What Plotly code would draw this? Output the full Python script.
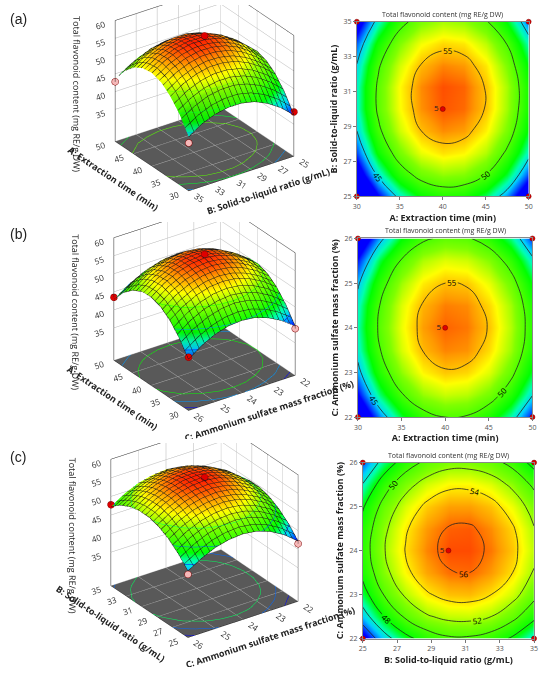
import plotly.graph_objects as go

# ---------------- data ----------------
# Panel (a): A extraction time (min) x B solid-to-liquid ratio (g/mL)
a_time = [30, 32.5, 35, 37.5, 40, 42.5, 45, 47.5, 50]
a_ratio = [25, 26.25, 27.5, 28.75, 30, 31.25, 32.5, 33.75, 35]
a_tfc = [  # rows: ratio, columns: time
    [37.6, 42.2, 45.6, 47.7, 48.6, 48.3, 46.7, 44.0, 40.0],
    [40.9, 45.4, 48.8, 50.9, 51.8, 51.5, 50.0, 47.2, 43.2],
    [43.3, 47.9, 51.2, 53.4, 54.3, 53.9, 52.4, 49.6, 45.7],
    [45.0, 49.5, 52.9, 55.0, 55.9, 55.6, 54.0, 51.3, 47.3],
    [45.8, 50.4, 53.7, 55.8, 56.7, 56.4, 54.9, 52.1, 48.1],
    [45.8, 50.4, 53.8, 55.9, 56.8, 56.5, 54.9, 52.2, 48.2],
    [45.1, 49.7, 53.0, 55.1, 56.0, 55.7, 54.2, 51.4, 47.4],
    [43.6, 48.1, 51.5, 53.6, 54.5, 54.2, 52.6, 49.9, 45.9],
    [41.2, 45.8, 49.1, 51.3, 52.2, 51.8, 50.3, 47.5, 43.6],
]
a_pt_time = [30, 50, 30, 50, 40]
a_pt_ratio = [25, 25, 35, 35, 30]
a_pt_tfc = [38.5, 39.5, 39.5, 42.8, 57.8]

# Panel (b): A extraction time (min) x C ammonium sulfate mass fraction (%)
b_time = [30, 32.5, 35, 37.5, 40, 42.5, 45, 47.5, 50]
b_salt = [22, 22.5, 23, 23.5, 24, 24.5, 25, 25.5, 26]
b_tfc = [  # rows: salt, columns: time
    [39.7, 43.9, 47.1, 49.1, 50.0, 49.8, 48.4, 46.0, 42.4],
    [42.4, 46.7, 49.8, 51.9, 52.8, 52.5, 51.2, 48.7, 45.1],
    [44.4, 48.7, 51.8, 53.9, 54.8, 54.5, 53.2, 50.7, 47.1],
    [45.7, 49.9, 53.1, 55.1, 56.0, 55.8, 54.4, 52.0, 48.4],
    [46.1, 50.4, 53.5, 55.6, 56.5, 56.2, 54.9, 52.4, 48.8],
    [45.8, 50.0, 53.2, 55.2, 56.1, 55.9, 54.5, 52.1, 48.5],
    [44.7, 48.9, 52.1, 54.1, 55.0, 54.8, 53.4, 51.0, 47.4],
    [42.8, 47.1, 50.2, 52.3, 53.2, 52.9, 51.6, 49.1, 45.5],
    [40.2, 44.4, 47.6, 49.6, 50.5, 50.3, 48.9, 46.5, 42.9],
]
b_pt_time = [30, 50, 30, 50, 40]
b_pt_salt = [22, 22, 26, 26, 24]
b_pt_tfc = [39.0, 42.0, 40.8, 43.5, 57.5]

# Panel (c): B solid-to-liquid ratio (g/mL) x C ammonium sulfate mass fraction (%)
c_ratio = [25, 26.25, 27.5, 28.75, 30, 31.25, 32.5, 33.75, 35]
c_salt = [22, 22.5, 23, 23.5, 24, 24.5, 25, 25.5, 26]
c_tfc = [  # rows: salt, columns: ratio
    [42.2, 45.2, 47.4, 48.9, 49.7, 49.7, 49.1, 47.7, 45.7],
    [45.1, 48.0, 50.3, 51.8, 52.5, 52.6, 52.0, 50.6, 48.5],
    [47.2, 50.1, 52.3, 53.8, 54.6, 54.7, 54.0, 52.7, 50.6],
    [48.5, 51.4, 53.6, 55.1, 55.9, 56.0, 55.3, 54.0, 51.9],
    [49.0, 51.9, 54.1, 55.6, 56.4, 56.4, 55.8, 54.5, 52.4],
    [48.7, 51.6, 53.8, 55.3, 56.1, 56.2, 55.5, 54.2, 52.1],
    [47.8, 50.7, 52.9, 54.4, 55.2, 55.2, 54.6, 53.2, 51.2],
    [46.1, 49.1, 51.3, 52.8, 53.6, 53.6, 53.0, 51.6, 49.6],
    [43.9, 46.8, 49.0, 50.5, 51.3, 51.3, 50.7, 49.4, 47.3],
]
c_pt_ratio = [25, 35, 25, 35, 30]
c_pt_salt = [22, 22, 26, 26, 24]
c_pt_tfc = [41.5, 46.0, 43.0, 47.8, 57.2]

pt_text = ["", "", "", "", "5"]

z_title = "Total flavonoid content (mg RE/g DW)"
lab_time = "A: Extraction time (min)"
lab_ratio = "B: Solid-to-liquid ratio (g/mL)"
lab_salt = "C: Ammonium sulfate mass fraction (%)"

time_ticks = [30, 35, 40, 45, 50]
ratio_ticks = [25, 27, 29, 31, 33, 35]
salt_ticks = [22, 23, 24, 25, 26]
z_ticks = [35, 40, 45, 50, 55, 60]

# ---------------- styles ----------------
FONT = "Open Sans"
CS = [[0.0, "#0000ff"], [0.07, "#0060ff"], [0.15, "#00d0ff"], [0.24, "#00ffb0"],
      [0.34, "#00ff00"], [0.6, "#80ff00"], [0.75, "#ffff00"], [0.88, "#ff9900"],
      [1.0, "#ff2000"]]
RED = "#e00000"
PINK = "#f6b8b8"
a_pt_col = [RED, RED, PINK, PINK, RED]
b_pt_col = [PINK, RED, RED, RED, RED]
c_pt_col = [PINK, RED, PINK, RED, RED]

fig = go.Figure()


def add_surface(x, y, z, scene, xstep, ystep, zc, px, py, pz, pcol):
    fig.add_trace(go.Surface(
        x=x, y=y, z=z, colorscale=CS, showscale=False, scene=scene,
        lighting=dict(ambient=0.75, diffuse=0.55, specular=0.1, roughness=0.7),
        contours=dict(
            x=dict(show=True, start=x[0], end=x[-1], size=xstep, color="#1a1a1a", width=1),
            y=dict(show=True, start=y[0], end=y[-1], size=ystep, color="#1a1a1a", width=1),
            z=dict(show=True, start=zc[0], end=zc[1], size=zc[2], usecolormap=True,
                   project=dict(z=True), width=4),
        ),
        hoverinfo="skip",
    ))
    fig.add_trace(go.Scatter3d(
        x=px, y=py, z=pz, mode="markers", scene=scene,
        marker=dict(size=4, color=pcol, line=dict(color="#800000", width=0.5)),
        hoverinfo="skip", showlegend=False,
    ))


def add_contour(x, y, z, xa, ya, lev, px, py):
    fig.add_trace(go.Contour(
        x=x, y=y, z=z, colorscale=CS, showscale=False, xaxis=xa, yaxis=ya,
        contours=dict(start=lev[0], end=lev[1], size=lev[2], coloring="heatmap",
                      showlabels=True, labelfont=dict(size=8, color="black", family=FONT)),
        line=dict(color="#222222", width=0.8, smoothing=1.3),
        hoverinfo="skip",
    ))
    fig.add_trace(go.Scatter(
        x=px, y=py, mode="markers+text", xaxis=xa, yaxis=ya, text=pt_text,
        textposition="middle left", textfont=dict(size=8, color="#222", family=FONT),
        marker=dict(size=5, color=RED, line=dict(color="#700000", width=0.5)),
        cliponaxis=False, hoverinfo="skip", showlegend=False,
    ))


add_surface(a_time, a_ratio, a_tfc, "scene", 1, 0.5, (42, 54, 4), a_pt_time, a_pt_ratio, a_pt_tfc, a_pt_col)
add_surface(b_time, b_salt, b_tfc, "scene2", 1, 0.2, (42, 54, 4), b_pt_time, b_pt_salt, b_pt_tfc, b_pt_col)
add_surface(c_ratio, c_salt, c_tfc, "scene3", 0.5, 0.2, (45, 54, 3), c_pt_ratio, c_pt_salt, c_pt_tfc, c_pt_col)

add_contour(a_time, a_ratio, a_tfc, "x", "y", (45, 55, 5), a_pt_time, a_pt_ratio)
add_contour(b_time, b_salt, b_tfc, "x2", "y2", (45, 55, 5), b_pt_time, b_pt_salt)
add_contour(c_ratio, c_salt, c_tfc, "x3", "y3", (44, 56, 2), c_pt_ratio, c_pt_salt)


def ax3d(title, rng, ticks, bold=True, floor=False):
    t = f"<b>{title}</b>" if bold else title
    d = dict(
        title=dict(text=t, font=dict(size=9, family=FONT, color="#222")),
        range=rng, tickvals=ticks, tickfont=dict(size=10, family=FONT, color="#333"),
        showgrid=True, gridcolor="#b5b5b5", gridwidth=1,
        showline=True, linecolor="#222", linewidth=1, mirror=True,
        zeroline=False, showspikes=False, ticks="", showbackground=False,
    )
    if floor:
        d["showbackground"] = True
        d["backgroundcolor"] = "#595959"
    return d


def scene(ydom, xt, xr, xtk, yt, yr, ytk):
    return dict(
        domain=dict(x=[0.07, 0.67], y=ydom),
        xaxis=ax3d(xt, xr, xtk),
        yaxis=ax3d(yt, yr, ytk),
        zaxis=ax3d(z_title, [26, 60], z_ticks, bold=False, floor=True),
        aspectmode="manual", aspectratio=dict(x=1.2, y=1.2, z=1.28),
        camera=dict(eye=dict(x=-1.23, y=0.86, z=0.55), center=dict(x=0, y=0, z=-0.25),
                    projection=dict(type="orthographic")),
        bgcolor="rgba(0,0,0,0)",
    )


def ax2d(title, dom, ticks, anchor, rng):
    return dict(
        domain=dom, anchor=anchor, range=rng, tickvals=ticks,
        title=dict(text=f"<b>{title}</b>", font=dict(size=9, family=FONT, color="#222"), standoff=4),
        tickfont=dict(size=7, family=FONT, color="#555"),
        ticks="outside", ticklen=3, tickcolor="#777",
        showline=True, mirror=True, linecolor="#888", linewidth=1,
        showgrid=False, zeroline=False,
    )


fig.update_layout(
    width=550, height=678, margin=dict(l=0, r=0, t=0, b=0),
    paper_bgcolor="white", plot_bgcolor="white", showlegend=False,
    font=dict(family=FONT),
    scene=scene([0.68, 1.0], lab_time, [30, 50], time_ticks, lab_ratio, [25, 35], ratio_ticks),
    scene2=scene([0.35, 0.675], lab_time, [30, 50], time_ticks, lab_salt, [22, 26], salt_ticks),
    scene3=scene([0.01, 0.345], lab_ratio, [25, 35], ratio_ticks, lab_salt, [22, 26], salt_ticks),
    xaxis=ax2d(lab_time, [0.651, 0.968], time_ticks, "y", [30, 50]),
    yaxis=ax2d(lab_ratio, [0.714, 0.975], ratio_ticks, "x", [25, 35]),
    xaxis2=ax2d(lab_time, [0.653, 0.975], time_ticks, "y2", [30, 50]),
    yaxis2=ax2d(lab_salt, [0.384, 0.651], salt_ticks, "x2", [22, 26]),
    xaxis3=ax2d(lab_ratio, [0.662, 0.978], ratio_ticks, "y3", [25, 35]),
    yaxis3=ax2d(lab_salt, [0.053, 0.316], salt_ticks, "x3", [22, 26]),
)

ann = []
for xd, ytop in [((0.651 + 0.968) / 2, 0.975), ((0.653 + 0.975) / 2, 0.651), ((0.662 + 0.978) / 2, 0.316)]:
    ann.append(dict(text=z_title, x=xd, y=ytop, xref="paper", yref="paper",
                    xanchor="center", yanchor="bottom", showarrow=False, yshift=1,
                    font=dict(size=7, family=FONT, color="#333")))
for lab, yy in [("(a)", 0.979), ("(b)", 0.658), ("(c)", 0.3245)]:
    ann.append(dict(text=lab, x=0.008, y=yy, xref="paper", yref="paper",
                    xanchor="left", yanchor="middle", showarrow=False,
                    font=dict(size=14, family="Liberation Sans", color="#222")))
fig.update_layout(annotations=ann)

fig.write_html("out.html", config={"displayModeBar": False},
               post_script="document.body.style.margin='0px';")
